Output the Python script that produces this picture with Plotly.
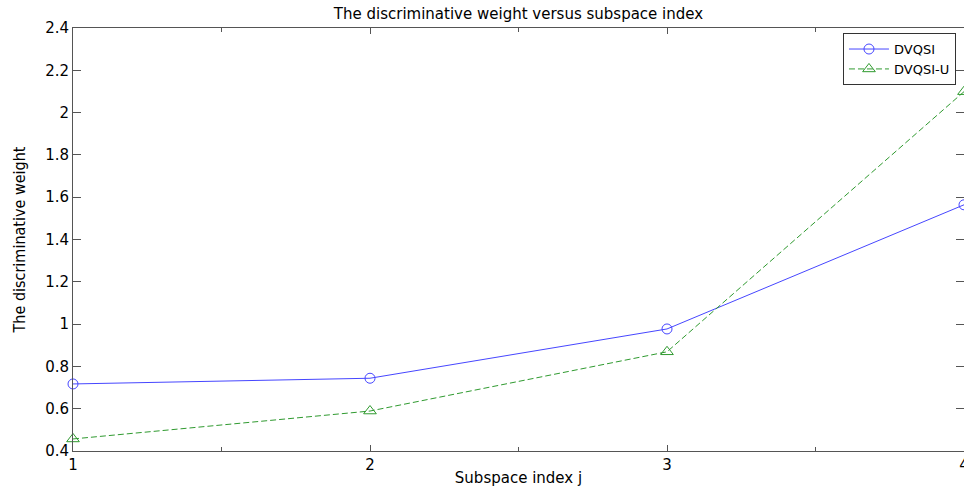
import plotly.graph_objects as go

x_index = [1, 2, 3, 4]
dvqsi = [0.717, 0.744, 0.977, 1.564]
dvqsi_u = [0.457, 0.589, 0.869, 2.099]
y_ticks = [0.4, 0.6, 0.8, 1.0, 1.2, 1.4, 1.6, 1.8, 2.0, 2.2, 2.4]
y_tick_text = ["0.4", "0.6", "0.8", "1", "1.2", "1.4", "1.6", "1.8", "2", "2.2", "2.4"]
x_ticks = [1, 2, 3, 4]

TICKFONT = dict(family="DejaVu Sans, Arial, sans-serif", size=15, color="black")

fig = go.Figure()
fig.add_trace(go.Scatter(
    x=x_index, y=dvqsi, name="DVQSI", mode="lines+markers",
    line=dict(color="#4646ff", width=1),
    marker=dict(symbol="circle-open", size=10, color="#4646ff", line=dict(width=1)),
    cliponaxis=False,
))
fig.add_trace(go.Scatter(
    x=x_index, y=dvqsi_u, name="DVQSI-U", mode="lines+markers",
    line=dict(color="#2f9a2f", width=1, dash="6px,3px"),
    marker=dict(symbol="triangle-up-open", size=11, color="#2f9a2f", line=dict(width=1)),
    cliponaxis=False,
))

fig.update_layout(
    width=964, height=487,
    margin=dict(l=73, r=0, t=28, b=36),
    paper_bgcolor="white", plot_bgcolor="white",
    title=dict(text="The discriminative weight versus subspace index",
               x=(73 + 964) / 2 / 964, xanchor="center", y=1 - 14 / 487, yanchor="middle",
               font=dict(family="DejaVu Sans, Arial, sans-serif", size=15, color="black")),
    showlegend=True,
    legend=dict(x=0.991, y=0.988, xanchor="right", yanchor="top",
                bgcolor="white", bordercolor="#333", borderwidth=1,
                font=dict(family="DejaVu Sans, Arial, sans-serif", size=13, color="black"),
                tracegroupgap=0, itemwidth=40),
)

fig.update_xaxes(
    range=[1, 4], tickvals=x_ticks, ticktext=[str(v) for v in x_ticks],
    ticklabeloverflow="allow", automargin=False,
    showgrid=False, zeroline=False,
    showline=True, linecolor="#555", linewidth=1, mirror="ticks",
    ticks="inside", ticklen=6, tickcolor="#555",
    minor=dict(tickvals=[1.5, 2.5, 3.5], ticks="inside", ticklen=4, tickcolor="#555", showgrid=False),
    tickfont=TICKFONT,
    title=dict(text="Subspace index j",
               font=dict(family="DejaVu Sans, Arial, sans-serif", size=15, color="black")),
)
fig.update_yaxes(
    range=[0.4, 2.4], tickvals=y_ticks, ticktext=y_tick_text,
    automargin=False,
    showgrid=False, zeroline=False,
    showline=True, linecolor="#555", linewidth=1, mirror="ticks",
    ticks="inside", ticklen=8, tickcolor="#555",
    tickfont=TICKFONT,
    title=dict(text="The discriminative weight",
               font=dict(family="Liberation Sans Narrow, DejaVu Sans Condensed, Arial Narrow, sans-serif",
                         size=16, color="black")),
)

fig.write_html("out.html")
